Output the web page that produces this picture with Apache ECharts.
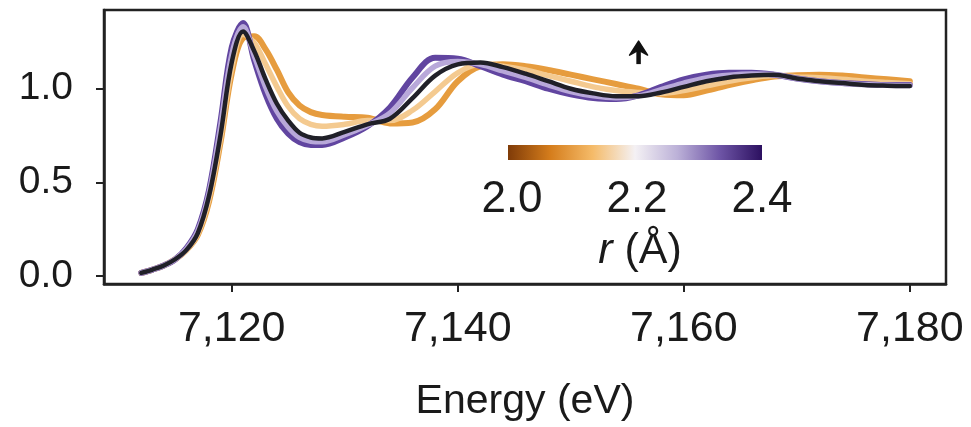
<!DOCTYPE html>
<html><head><meta charset="utf-8">
<script src="https://cdn.jsdelivr.net/npm/echarts@6/dist/echarts.min.js"></script>
<style>html,body{margin:0;padding:0;background:#fff}#c{width:971px;height:427px}</style>
</head><body><div id="c"></div>
<script>
const energy = [7112,7113,7114,7115,7116,7117,7118,7119,7120,7121,7122,7123,7124,7125,7126,7127,7128,7130,7132,7134,7136,7138,7140,7142,7144,7146,7148,7150,7152,7154,7156,7158,7160,7162,7164,7166,7168,7170,7172,7174,7176,7178,7180];
const muBlack = [0.017,0.035,0.057,0.09,0.14,0.23,0.43,0.75,1.14,1.305,1.20,1.05,0.92,0.83,0.765,0.74,0.735,0.77,0.81,0.84,0.95,1.07,1.13,1.14,1.115,1.08,1.04,1.00,0.975,0.96,0.96,0.98,1.01,1.04,1.06,1.07,1.074,1.055,1.04,1.03,1.02,1.016,1.014];
const muR20 = [0.017,0.035,0.057,0.09,0.14,0.22,0.40,0.71,1.08,1.27,1.28,1.21,1.10,0.98,0.91,0.875,0.86,0.85,0.845,0.815,0.82,0.89,1.04,1.12,1.13,1.12,1.10,1.075,1.05,1.025,1.0,0.97,0.965,0.99,1.02,1.045,1.065,1.072,1.075,1.07,1.06,1.05,1.04];
const muR21 = [0.017,0.035,0.057,0.09,0.14,0.225,0.415,0.73,1.11,1.29,1.245,1.13,1.01,0.905,0.84,0.81,0.80,0.81,0.83,0.83,0.885,0.985,1.085,1.13,1.12,1.10,1.07,1.04,1.01,0.99,0.98,0.975,0.99,1.015,1.04,1.058,1.07,1.063,1.058,1.05,1.04,1.033,1.027];
const muR23 = [0.017,0.035,0.057,0.09,0.145,0.24,0.445,0.79,1.18,1.33,1.175,1.01,0.88,0.795,0.74,0.72,0.717,0.755,0.805,0.87,1.005,1.12,1.145,1.13,1.095,1.06,1.02,0.985,0.962,0.952,0.962,0.995,1.03,1.058,1.072,1.078,1.074,1.055,1.04,1.03,1.022,1.018,1.017];
const muR24 = [0.017,0.035,0.057,0.09,0.15,0.25,0.46,0.82,1.22,1.35,1.15,0.97,0.84,0.76,0.715,0.70,0.70,0.74,0.80,0.90,1.06,1.165,1.16,1.12,1.075,1.04,1.00,0.97,0.95,0.945,0.965,1.01,1.05,1.075,1.085,1.085,1.075,1.055,1.04,1.03,1.025,1.02,1.02];
const xTicks = [7120,7140,7160,7180];
const yTicks = [0,0.5,1.0];
const cbLabels = ['2.0','2.2','2.4'];
const cbColors = ['#7f3b08','#d57d1c','#f5bb69','#f4f1f4','#bcb1d8','#6e55a6','#2c1060'];

const FF = "'Liberation Sans', Arial, sans-serif";
const TXT = '#1a1a1a';
const chart = echarts.init(document.getElementById('c'));
const pts = arr => energy.map((e, i) => [e, arr[i]]);
const mk = (arr, color, w, z) => ({
  type: 'line', data: pts(arr), showSymbol: false, smooth: 0.35, z: z,
  lineStyle: { color: color, width: w, cap: 'round', join: 'round' }, silent: true
});
const fmtX = v => String(v).replace(/\B(?=(\d{3})+(?!\d))/g, ',');

chart.setOption({
  animation: false,
  backgroundColor: '#fff',
  grid: { left: 104, right: 25, top: 10, bottom: 139, show: true, borderColor: '#222', borderWidth: 2.5, backgroundColor: 'transparent' },
  xAxis: {
    type: 'value', min: 7108.7, max: 7183.2,
    axisLine: { show: true, onZero: false, lineStyle: { color: '#222', width: 2.5 } },
    axisTick: { show: true, customValues: xTicks, length: 8, lineStyle: { color: '#222', width: 2 } },
    axisLabel: { customValues: xTicks, formatter: fmtX, fontSize: 43, color: TXT, margin: 24, fontFamily: FF },
    splitLine: { show: false },
    name: 'Energy (eV)', nameLocation: 'middle', nameGap: 97,
    nameTextStyle: { fontSize: 41, color: TXT, fontFamily: FF }
  },
  yAxis: {
    type: 'value', min: -0.042, max: 1.42,
    axisLine: { show: true, onZero: false, lineStyle: { color: '#222', width: 2.5 } },
    axisTick: { show: true, customValues: yTicks, length: 8, lineStyle: { color: '#222', width: 2 } },
    axisLabel: { customValues: yTicks, formatter: v => v.toFixed(1), fontSize: 39, color: TXT, margin: 31, fontFamily: FF },
    splitLine: { show: false }
  },
  series: [
    mk(muR20, '#e69c3e', 6, 1),
    mk(muR21, '#f4ca90', 5.5, 2),
    mk(muR24, '#6145a0', 6, 3),
    mk(muR23, '#b8a8d9', 5.5, 4),
    mk(muBlack, '#202028', 4.5, 5)
  ]
});

const stops = cbColors.map((c, i) => ({ offset: i / (cbColors.length - 1), color: c }));
const cbX0 = 508, cbX1 = 762;
const labelEls = cbLabels.map((t, i) => ({
  type: 'text', x: cbX0 + 4 + i * (cbX1 - cbX0 - 4) / 2, y: 200,
  style: { text: t, fontSize: 44, fill: TXT, fontFamily: FF, align: 'center', verticalAlign: 'middle' }
}));
const ap = chart.convertToPixel({ gridIndex: 0 }, [7156, 1.19]);
chart.setOption({
  graphic: [
    { type: 'rect', shape: { x: cbX0, y: 145, width: cbX1 - cbX0, height: 15 },
      style: { fill: new echarts.graphic.LinearGradient(0, 0, 1, 0, stops) } },
    ...labelEls,
    { type: 'text', x: 640, y: 251,
      style: { text: '{i|r} (Å)', fontSize: 43, fill: TXT, fontFamily: FF, align: 'center', verticalAlign: 'middle',
        rich: { i: { fontStyle: 'italic', fontSize: 43, fill: TXT, fontFamily: FF } } } },
    { type: 'group', x: ap[0], y: ap[1], children: [
      { type: 'polygon', shape: { points: [[0, -12], [9, 2], [0, -3], [-9, 2]] }, style: { fill: '#111', stroke: '#111', lineWidth: 1.5, lineJoin: 'round' } },
      { type: 'line', shape: { x1: 0, y1: -6, x2: 0, y2: 11 }, style: { stroke: '#111', lineWidth: 4.5 } }
    ] }
  ]
});
</script></body></html>
